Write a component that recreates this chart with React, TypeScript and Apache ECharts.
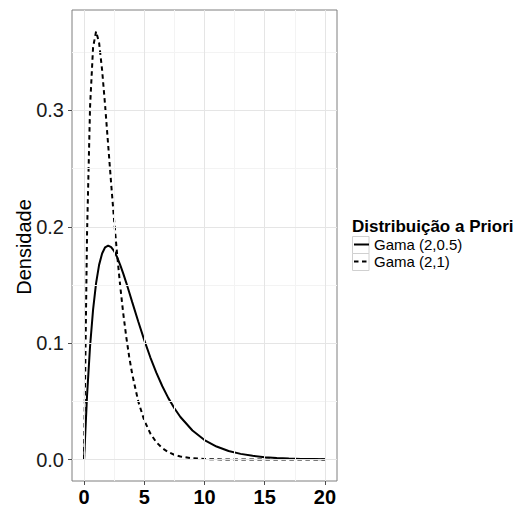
import React, { useEffect, useRef } from "react";
import * as echarts from "echarts";

const xValues = [0, 0.25, 0.5, 0.75, 1, 1.25, 1.5, 1.75, 2, 2.25, 2.5, 2.75, 3, 3.25, 3.5, 3.75, 4, 4.5, 5, 5.5, 6, 6.5, 7, 7.5, 8, 9, 10, 11, 12, 13, 14, 15, 16, 17, 18, 19, 20];
const gamma2_05 = [0, 0.0552, 0.0974, 0.1289, 0.1516, 0.1673, 0.1771, 0.1824, 0.1839, 0.1826, 0.1791, 0.1738, 0.1673, 0.16, 0.1521, 0.1438, 0.1353, 0.1186, 0.1026, 0.0879, 0.0747, 0.063, 0.0528, 0.0441, 0.0366, 0.025, 0.0168, 0.0112, 0.0074, 0.0049, 0.0032, 0.0021, 0.0013, 0.0009, 0.0006, 0.0004, 0.0002];
const gamma2_1 = [0, 0.1947, 0.3033, 0.3543, 0.3679, 0.3581, 0.3347, 0.3041, 0.2707, 0.2371, 0.2052, 0.1758, 0.1494, 0.126, 0.1057, 0.0882, 0.0733, 0.05, 0.0337, 0.0225, 0.0149, 0.0098, 0.0064, 0.0041, 0.0027, 0.0011, 0.0005, 0.0002, 0.0001, 0, 0, 0, 0, 0, 0, 0, 0];
const seriesNames = ["Gama (2,0.5)", "Gama (2,1)"];
const xTicks = [0, 5, 10, 15, 20];
const xMinorTicks = [2.5, 7.5, 12.5, 17.5];
const yTicks = [0, 0.1, 0.2, 0.3];
const yMinorTicks = [0.05, 0.15, 0.25, 0.35];
const legendTitle = "Distribuição a Priori";
const yTitle = "Densidade";

const FONT = "'Liberation Sans', Arial, Helvetica, sans-serif";

export default function App() {
  const ref = useRef<HTMLDivElement>(null);
  useEffect(() => {
    if (!ref.current) return;
    const chart = echarts.init(ref.current, null, { renderer: "svg" });
    const pair = (ys: number[]) => xValues.map((x, i) => [x, ys[i]]);
    const gridLines = [
      ...xMinorTicks.map((v) => ({ xAxis: v, lineStyle: { color: "#f3f3f3", width: 1, type: "solid" } })),
      ...yMinorTicks.map((v) => ({ yAxis: v, lineStyle: { color: "#f3f3f3", width: 1, type: "solid" } })),
      ...xTicks.map((v) => ({ xAxis: v, lineStyle: { color: "#e5e5e5", width: 1, type: "solid" } })),
      ...yTicks.map((v) => ({ yAxis: v, lineStyle: { color: "#e5e5e5", width: 1, type: "solid" } })),
    ];
    chart.setOption({
      animation: false,
      textStyle: { fontFamily: FONT },
      grid: {
        left: 72,
        top: 10,
        width: 265,
        height: 471,
        show: true,
        borderColor: "#7f7f7f",
        borderWidth: 1,
        backgroundColor: "#ffffff",
        containLabel: false,
        outerBoundsMode: "none",
      },
      title: {
        text: legendTitle,
        left: 352,
        top: 218,
        padding: 0,
        textStyle: { fontSize: 17, fontWeight: "bold", color: "#000", fontFamily: FONT },
      },
      legend: {
        data: seriesNames,
        orient: "vertical",
        left: 353,
        top: 236,
        padding: 0,
        itemWidth: 15,
        itemHeight: 17,
        itemGap: 0,
        itemStyle: { color: "rgba(0,0,0,0)", borderWidth: 0, opacity: 0 },
        lineStyle: { width: 2, color: "#000" },
        textStyle: { fontSize: 15, color: "#000", fontFamily: FONT, lineHeight: 17 },
        selectedMode: false,
      },
      xAxis: {
        type: "value",
        min: -1,
        max: 21,
        axisLine: { show: false, onZero: false },
        axisTick: { show: true, length: 4, customValues: xTicks, lineStyle: { color: "#4d4d4d", width: 1 } },
        axisLabel: {
          customValues: xTicks,
          fontSize: 20,
          fontWeight: "bold",
          color: "#000",
          margin: 6,
          fontFamily: FONT,
        },
        splitLine: { show: false },
      },
      yAxis: {
        type: "value",
        min: -0.0184,
        max: 0.3863,
        axisLine: { show: false, onZero: false },
        axisTick: { show: true, length: 4, customValues: yTicks, lineStyle: { color: "#4d4d4d", width: 1 } },
        axisLabel: {
          customValues: yTicks,
          fontSize: 20,
          color: "#1a1a1a",
          margin: 8,
          fontFamily: FONT,
          formatter: (v: number) => v.toFixed(1),
        },
        splitLine: { show: false },
      },
      graphic: [
        {
          type: "text",
          x: 24,
          y: 247,
          rotation: Math.PI / 2,
          style: {
            text: yTitle,
            fontSize: 20,
            fontFamily: FONT,
            fill: "#000",
            textAlign: "center",
            textVerticalAlign: "middle",
          },
        },
        {
          type: "rect",
          z: 0,
          shape: { x: 352.5, y: 236.5, width: 16.5, height: 17 },
          style: { fill: "#fff", stroke: "#d0d0d0", lineWidth: 1 },
        },
        {
          type: "rect",
          z: 0,
          shape: { x: 352.5, y: 253.5, width: 16.5, height: 17 },
          style: { fill: "#fff", stroke: "#d0d0d0", lineWidth: 1 },
        },
      ],
      series: [
        {
          name: "__grid",
          type: "line",
          data: [[0, 0]],
          symbol: "none",
          lineStyle: { opacity: 0 },
          silent: true,
          z: 1,
          markLine: {
            silent: true,
            symbol: ["none", "none"],
            label: { show: false },
            animation: false,
            data: gridLines,
          },
        },
        {
          name: seriesNames[0],
          type: "line",
          data: pair(gamma2_05),
          symbol: "none",
          z: 3,
          lineStyle: { color: "#000", width: 2, type: "solid" },
          itemStyle: { color: "#000" },
        },
        {
          name: seriesNames[1],
          type: "line",
          data: pair(gamma2_1),
          symbol: "none",
          z: 3,
          lineStyle: { color: "#000", width: 2, type: [4.5, 3.5] },
          itemStyle: { color: "#000" },
        },
      ],
    });
    return () => chart.dispose();
  }, []);
  return (
    <div
      ref={ref}
      style={{ position: "fixed", left: 0, top: 0, width: 526, height: 509, background: "#fff" }}
    />
  );
}
